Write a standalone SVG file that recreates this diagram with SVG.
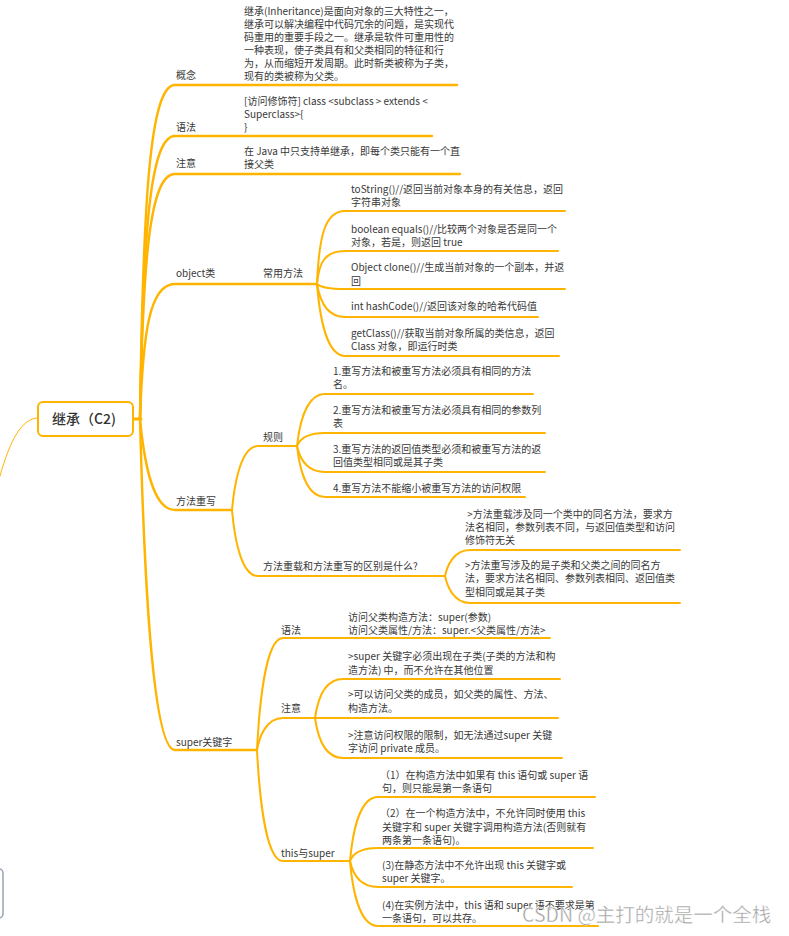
<svg xmlns="http://www.w3.org/2000/svg" width="789" height="936" viewBox="0 0 789 936">
<style>
text{font-family:"Noto Sans CJK SC","Noto Sans",sans-serif;font-size:10px;fill:#383838;}
.c{fill:none;stroke:#FFB400;stroke-width:2;stroke-linecap:round;}
.c1{stroke-width:2.4;}
.root{fill:#fff;stroke:#FFB400;stroke-width:2;}
.rt{font-size:14px;font-weight:500;fill:#333;}
.wm{font-size:19.5px;fill:#a0a0a0;stroke:#fff;stroke-width:0.4;}
</style>
<rect width="789" height="936" fill="#fff"/>
<g id="connectors">
<path class="c" style="stroke-width:1" d="M38 418 C22 418 10 440 0 476"/>
<path class="c" style="stroke-width:3" d="M133 419 H141"/>
<path class="c c1" d="M140 419 C143 199 150 85 175 85 H457"/>
<path class="c c1" d="M140 419 C143 232 150 136 175 136 H432"/>
<path class="c c1" d="M140 419 C143 257 150 174 175 174 H460"/>
<path class="c c1" d="M140 419 C143 330 150 284 175 284 H317"/>
<path class="c c1" d="M140 419 C143 450 150 510 175 510 H232"/>
<path class="c c1" d="M140 419 C143 532 150 750 175 750 H257"/>
<path class="c" d="M317 284 C319 236 325 211 345 211 H565"/>
<path class="c" d="M317 284 C319 262 325 251 345 251 H558"/>
<path class="c" d="M317 284 C319 286 325 289 345 289 H565"/>
<path class="c" d="M317 284 C319 296 325 317 345 317 H538"/>
<path class="c" d="M317 284 C319 309 325 356 345 356 H559"/>
<path class="c" d="M232 510 C234 488 240 446 258 446 H297"/>
<path class="c" d="M232 510 C234 533 240 576 258 576 H445"/>
<path class="c" d="M297 446 C299 428 305 394 325 394 H533"/>
<path class="c" d="M297 446 C299 441 305 433 325 433 H545"/>
<path class="c" d="M297 446 C299 455 305 472 325 472 H545"/>
<path class="c" d="M297 446 C299 464 305 497 325 497 H525"/>
<path class="c" d="M445 576 C447 567 453 550 470 550 H680"/>
<path class="c" d="M445 576 C447 585 453 603 470 603 H680"/>
<path class="c" d="M257 750 C259 711 265 638 283 638 H550"/>
<path class="c" d="M257 750 C259 739 265 718 283 718 H315"/>
<path class="c" d="M257 750 C259 789 265 861 283 861 H350"/>
<path class="c" d="M315 718 C317 704 323 679 343 679 H560"/>
<path class="c" d="M315 718 H558"/>
<path class="c" d="M315 718 C317 732 323 758 343 758 H562"/>
<path class="c" d="M350 861 C352 839 358 797 378 797 H595"/>
<path class="c" d="M350 861 C352 856 358 848 378 848 H593"/>
<path class="c" d="M350 861 C352 870 358 887 378 887 H572"/>
<path class="c" d="M350 861 C352 884 358 926 378 926 H598"/>
</g>
<g id="offscreen-node"><rect x="-20" y="869" width="23" height="49" rx="4" fill="#fff" stroke="#9aa3b5" stroke-width="1.5"/></g>
<g id="root"><rect class="root" x="38" y="402" width="95" height="34" rx="5"/><text class="rt" x="52" y="424">继承（C2)</text></g>
<g id="n-concept"><text x="176" y="79">概念</text></g>
<g id="n-concept-text"><text x="244" y="15">继承(Inheritance)是面向对象的三大特性之一，<tspan x="244" dy="13">继承可以解决编程中代码冗余的问题，是实现代</tspan><tspan x="244" dy="13">码重用的重要手段之一。继承是软件可重用性的</tspan><tspan x="244" dy="13">一种表现，使子类具有和父类相同的特征和行</tspan><tspan x="244" dy="13">为，从而缩短开发周期。此时新类被称为子类，</tspan><tspan x="244" dy="13">现有的类被称为父类。</tspan></text></g>
<g id="n-syntax"><text x="176" y="131">语法</text></g>
<g id="n-syntax-text"><text x="244" y="105">[访问修饰符] class &lt;subclass &gt; extends &lt;<tspan x="244" dy="13">Superclass&gt;{</tspan><tspan x="244" dy="13">}</tspan></text></g>
<g id="n-note"><text x="176" y="167">注意</text></g>
<g id="n-note-text"><text x="244" y="155">在 Java 中只支持单继承，即每个类只能有一个直<tspan x="244" dy="13">接父类</tspan></text></g>
<g id="n-object"><text x="176" y="277">object类</text></g>
<g id="n-methods"><text x="263" y="277">常用方法</text></g>
<g id="m-tostring"><text x="351" y="193">toString()//返回当前对象本身的有关信息，返回<tspan x="351" dy="13">字符串对象</tspan></text></g>
<g id="m-equals"><text x="351" y="233">boolean equals()//比较两个对象是否是同一个<tspan x="351" dy="13">对象，若是，则返回 true</tspan></text></g>
<g id="m-clone"><text x="351" y="271">Object clone()//生成当前对象的一个副本，并返<tspan x="351" dy="14">回</tspan></text></g>
<g id="m-hashcode"><text x="351" y="310">int hashCode()//返回该对象的哈希代码值</text></g>
<g id="m-getclass"><text x="351" y="337">getClass()//获取当前对象所属的类信息，返回<tspan x="351" dy="13">Class 对象，即运行时类</tspan></text></g>
<g id="n-override"><text x="176" y="505">方法重写</text></g>
<g id="n-rules"><text x="263" y="441">规则</text></g>
<g id="r1"><text x="333" y="375">1.重写方法和被重写方法必须具有相同的方法<tspan x="333" dy="13">名。</tspan></text></g>
<g id="r2"><text x="333" y="414">2.重写方法和被重写方法必须具有相同的参数列<tspan x="333" dy="13">表</tspan></text></g>
<g id="r3"><text x="333" y="453">3.重写方法的返回值类型必须和被重写方法的返<tspan x="333" dy="13">回值类型相同或是其子类</tspan></text></g>
<g id="r4"><text x="333" y="492">4.重写方法不能缩小被重写方法的访问权限</text></g>
<g id="n-diff"><text x="263" y="570">方法重载和方法重写的区别是什么?</text></g>
<g id="d1"><text x="465" y="518" xml:space="preserve"> &gt;方法重载涉及同一个类中的同名方法，要求方<tspan x="465" dy="13">法名相同，参数列表不同，与返回值类型和访问</tspan><tspan x="465" dy="13">修饰符无关</tspan></text></g>
<g id="d2"><text x="465" y="569">&gt;方法重写涉及的是子类和父类之间的同名方<tspan x="465" dy="13">法，要求方法名相同、参数列表相同、返回值类</tspan><tspan x="465" dy="14">型相同或是其子类</tspan></text></g>
<g id="n-super"><text x="176" y="746">super关键字</text></g>
<g id="n-super-syntax"><text x="281" y="634">语法</text></g>
<g id="s-syntax-text"><text x="348" y="621">访问父类构造方法：super(参数)<tspan x="348" dy="13">访问父类属性/方法：super.&lt;父类属性/方法&gt;</tspan></text></g>
<g id="n-super-note"><text x="281" y="712">注意</text></g>
<g id="sn1"><text x="348" y="660">&gt;super 关键字必须出现在子类(子类的方法和构<tspan x="348" dy="14">造方法) 中，而不允许在其他位置</tspan></text></g>
<g id="sn2"><text x="348" y="698">&gt;可以访问父类的成员，如父类的属性、方法、<tspan x="348" dy="14">构造方法。</tspan></text></g>
<g id="sn3"><text x="348" y="739">&gt;注意访问权限的限制，如无法通过super 关键<tspan x="348" dy="13">字访问 private 成员。</tspan></text></g>
<g id="n-this"><text x="281" y="857">this与super</text></g>
<g id="t1"><text x="380" y="779">（1）在构造方法中如果有 this 语句或 super 语<tspan x="382" dy="13">句，则只能是第一条语句</tspan></text></g>
<g id="t2"><text x="380" y="817">（2）在一个构造方法中，不允许同时使用 this<tspan x="382" dy="14">关键字和 super 关键字调用构造方法(否则就有</tspan><tspan x="382" dy="13">两条第一条语句)。</tspan></text></g>
<g id="t3"><text x="382" y="869">(3)在静态方法中不允许出现 this 关键字或<tspan x="382" dy="13">super 关键字。</tspan></text></g>
<g id="t4"><text x="382" y="909">(4)在实例方法中，this 语和 super 语不要求是第<tspan x="382" dy="13">一条语句，可以共存。</tspan></text></g>
<text class="wm" x="522" y="922">CSDN @主打的就是一个全栈</text>
</svg>
